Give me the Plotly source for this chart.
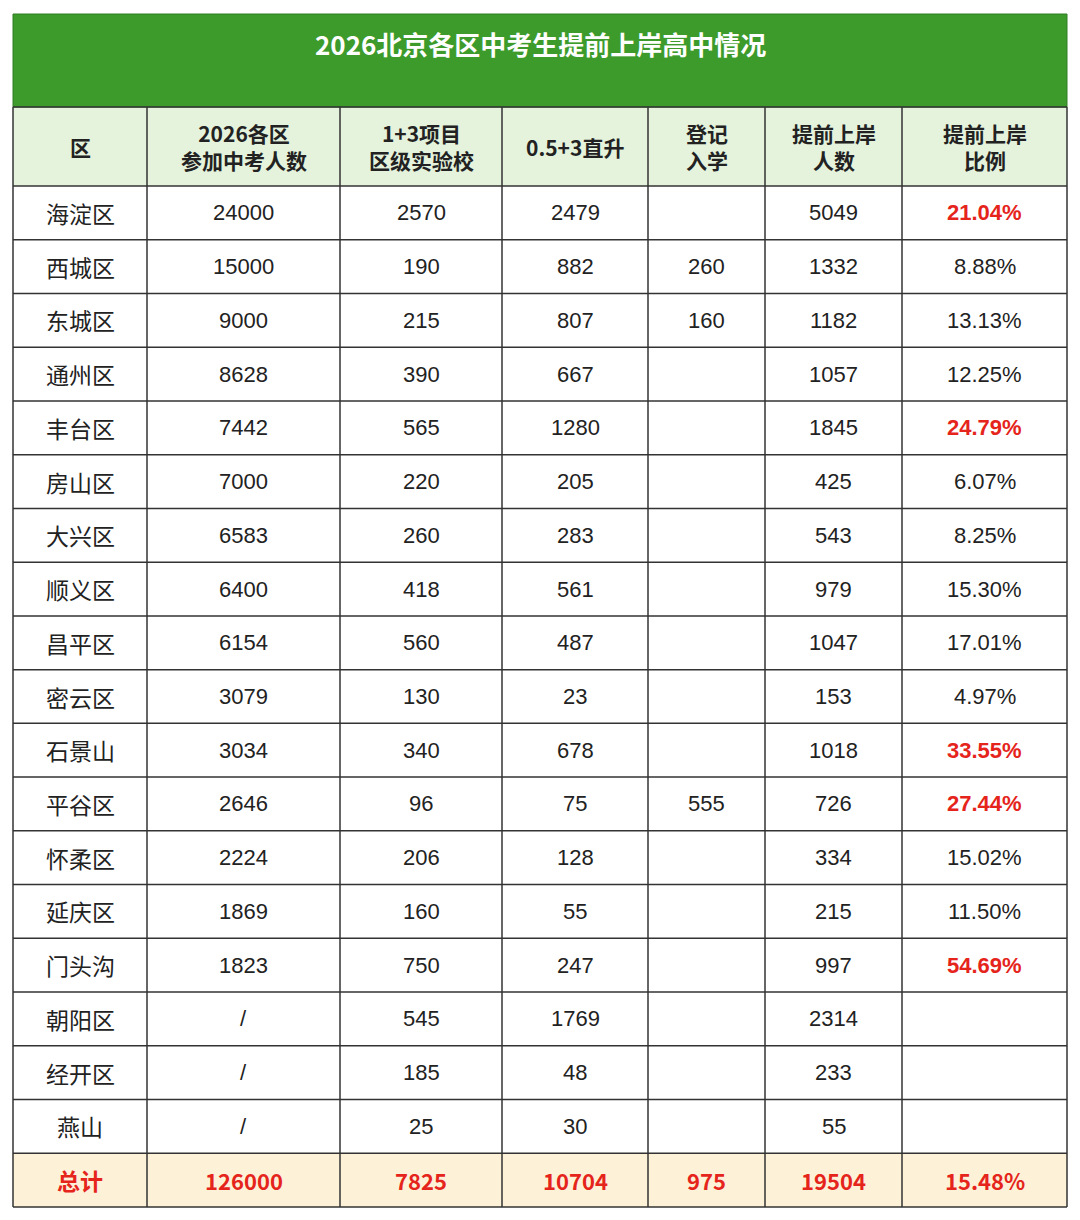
import plotly.graph_objects as go

districts = ["海淀区","西城区","东城区","通州区","丰台区","房山区","大兴区","顺义区","昌平区","密云区","石景山","平谷区","怀柔区","延庆区","门头沟","朝阳区","经开区","燕山","总计"]
exam_count = ["24000","15000","9000","8628","7442","7000","6583","6400","6154","3079","3034","2646","2224","1869","1823","/","/","/","126000"]
proj13 = ["2570","190","215","390","565","220","260","418","560","130","340","96","206","160","750","545","185","25","7825"]
direct = ["2479","882","807","667","1280","205","283","561","487","23","678","75","128","55","247","1769","48","30","10704"]
register = ["","260","160","","","","","","","","","555","","","","","","","975"]
early = ["5049","1332","1182","1057","1845","425","543","979","1047","153","1018","726","334","215","997","2314","233","55","19504"]
ratio = ["21.04%","8.88%","13.13%","12.25%","24.79%","6.07%","8.25%","15.30%","17.01%","4.97%","33.55%","27.44%","15.02%","11.50%","54.69%","","","","15.48%"]
headers = ["区","2026各区<br>参加中考人数","1+3项目<br>区级实验校","0.5+3直升","登记<br>入学","提前上岸<br>人数","提前上岸<br>比例"]
red_ratios = {"21.04%","24.79%","33.55%","27.44%","54.69%"}

cols = [districts, exam_count, proj13, direct, register, early, ratio]
n = len(districts)
RED = "#e5241b"
W, H = 1080, 1220
OFF = 8
xb = [13, 147, 340, 502, 648, 765, 902, 1067]
TOP, HEAD_B, BOT = 14, 107, 1207
head_h = 79
row_h = (BOT - HEAD_B - head_h) / n

def X(px): return (px - OFF) / W
def Y(py): return 1 - (py - OFF) / H

fig = go.Figure()
shapes, anns = [], []
FONT = "Noto Sans CJK SC"
# title
shapes.append(dict(type="rect", x0=X(13), x1=X(1067), y0=Y(HEAD_B), y1=Y(TOP), fillcolor="#3d9b2c", line=dict(color="#2f7f22", width=1)))
anns.append(dict(x=X(540), y=Y(44), text="<b>2026北京各区中考生提前上岸高中情况</b>", font=dict(family=FONT, size=26, color="white")))
# header
y0h, y1h = HEAD_B, HEAD_B + head_h
shapes.append(dict(type="rect", x0=X(13), x1=X(1067), y0=Y(y1h), y1=Y(y0h), fillcolor="#e5f3dc", line=dict(width=0), layer="below"))
for ci, h in enumerate(headers):
    anns.append(dict(x=X((xb[ci]+xb[ci+1])/2), y=Y((y0h+y1h)/2), text="<b>"+h+"</b>",
                     font=dict(family=FONT, size=21, color="#222")))
# rows
for ri in range(n):
    r0 = y1h + ri*row_h; r1 = r0 + row_h
    if ri == n-1:
        shapes.append(dict(type="rect", x0=X(13), x1=X(1067), y0=Y(r1), y1=Y(r0), fillcolor="#fdf1d8", line=dict(width=0), layer="below"))
    for ci, c in enumerate(cols):
        v = c[ri]
        if not v: continue
        red = ri == n-1 or (ci == 6 and v in red_ratios)
        anns.append(dict(x=X((xb[ci]+xb[ci+1])/2), y=Y((r0+r1)/2), text=("<b>"+v+"</b>") if red else v,
                         font=dict(family=FONT if ci == 0 or ri == n-1 else "Liberation Sans", size=22 if ci else 23, color=RED if red else "#222")))
# grid lines
ys = [y0h, y1h] + [y1h + (i+1)*row_h for i in range(n)]
for yy in ys:
    shapes.append(dict(type="line", x0=X(13), x1=X(1067), y0=Y(yy), y1=Y(yy), line=dict(color="#333", width=1.5)))
for xx in xb:
    shapes.append(dict(type="line", x0=X(xx), x1=X(xx), y0=Y(BOT), y1=Y(y0h), line=dict(color="#333", width=1.5)))

for a in anns:
    a.update(xref="paper", yref="paper", showarrow=False, xanchor="center", yanchor="middle")
for s in shapes:
    s.update(xref="paper", yref="paper")
fig.update_layout(width=W, height=H, margin=dict(l=0, r=0, t=0, b=0), paper_bgcolor="white",
                  plot_bgcolor="white", shapes=shapes, annotations=anns,
                  xaxis=dict(visible=False, range=[0, 1]), yaxis=dict(visible=False, range=[0, 1]))
fig.write_html("out.html")
